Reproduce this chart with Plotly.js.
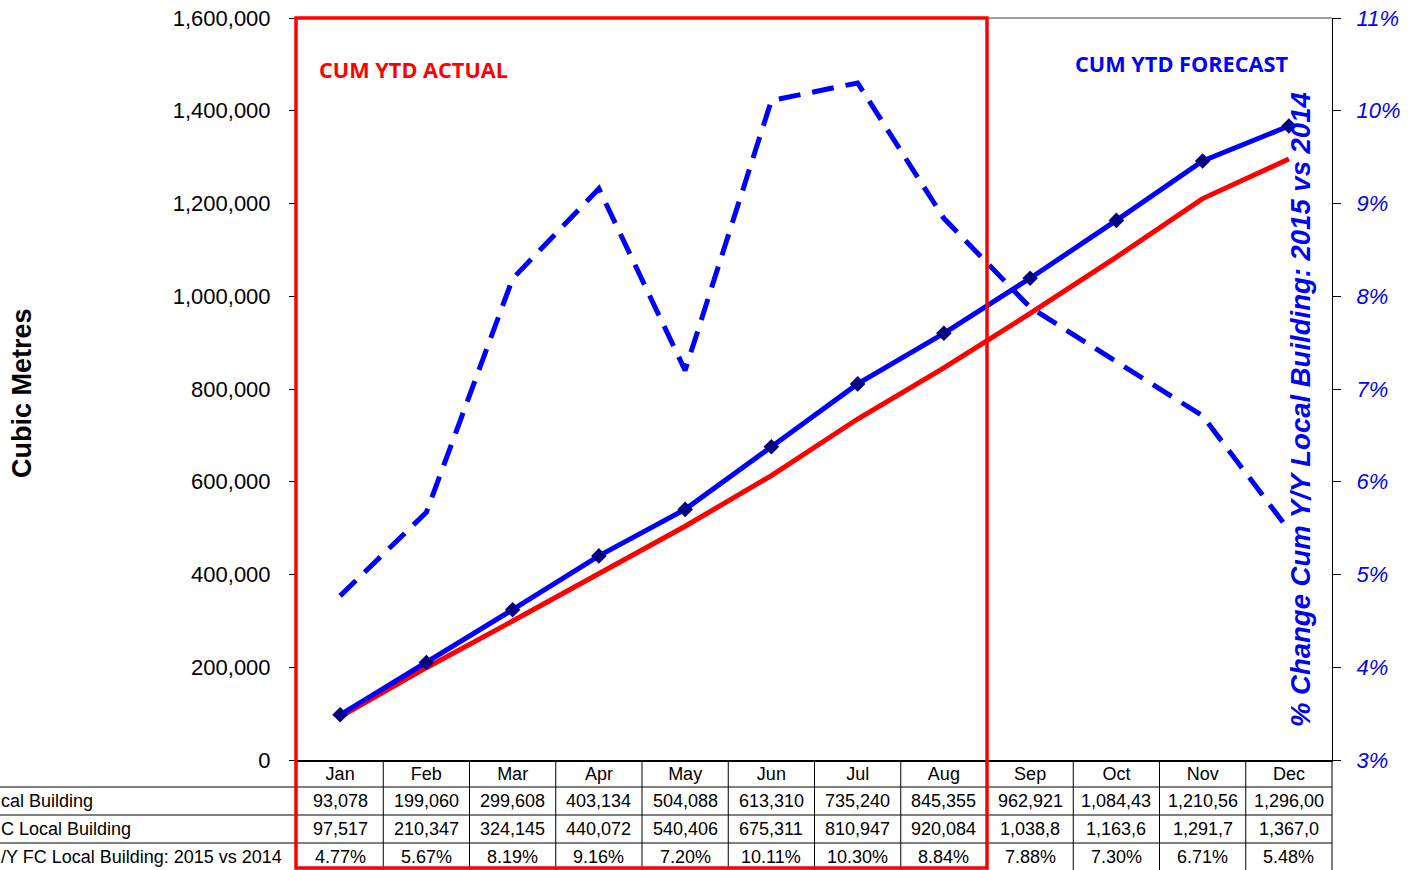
<!DOCTYPE html>
<html>
<head>
<meta charset="utf-8">
<script src="https://cdn.plot.ly/plotly-3.0.1.min.js"></script>
<style>html,body{margin:0;padding:0;background:#fff;}#chart{width:1408px;height:870px;}</style>
</head>
<body>
<div id="chart"></div>
<script>
// ---- data ----
const months = ['Jan','Feb','Mar','Apr','May','Jun','Jul','Aug','Sep','Oct','Nov','Dec'];
const actual = [93078,199060,299608,403134,504088,613310,735240,845355,962921,1084430,1210560,1296000];
const forecast = [97517,210347,324145,440072,540406,675311,810947,920084,1038800,1163600,1291700,1367000];
const pctChange = [0.0477,0.0567,0.0819,0.0916,0.0720,0.1011,0.1030,0.0884,0.0788,0.0730,0.0671,0.0548];
const actualLabels = ['93,078','199,060','299,608','403,134','504,088','613,310','735,240','845,355','962,921','1,084,43','1,210,56','1,296,00'];
const forecastLabels = ['97,517','210,347','324,145','440,072','540,406','675,311','810,947','920,084','1,038,8','1,163,6','1,291,7','1,367,0'];
const pctLabels = ['4.77%','5.67%','8.19%','9.16%','7.20%','10.11%','10.30%','8.84%','7.88%','7.30%','6.71%','5.48%'];
// row labels as visible in the (left-cropped) reference
const rowNames = ['cal Building','C Local Building','/Y FC Local Building: 2015 vs 2014'];

// ---- geometry helpers (paper coords) ----
const L = 297, R = 1332, T = 18, B = 760;
const px = x => (x - L) / (R - L);
const py = y => (B - y) / (B - T);

const traces = [
  {x: months, y: actual, type: 'scatter', mode: 'lines', line: {color: '#FF0000', width: 5}, hoverinfo: 'skip', yaxis: 'y'},
  {x: months, y: forecast, type: 'scatter', mode: 'lines+markers', line: {color: '#0000FF', width: 5},
   marker: {symbol: 'diamond', size: 12, color: '#000080'}, hoverinfo: 'skip', yaxis: 'y'},
  {x: months, y: pctChange, type: 'scatter', mode: 'lines', line: {color: '#0000FF', width: 5, dash: '22px,12px'}, hoverinfo: 'skip', yaxis: 'y2'}
];

const tf = 'Liberation Sans, Arial, sans-serif';
const shapes = [];
const annotations = [];

// table horizontal lines
[787, 815, 843].forEach(y => shapes.push({type: 'line', xref: 'paper', yref: 'paper', x0: px(0), x1: 1, y0: py(y), y1: py(y), line: {color: '#000', width: 1.2}, layer: 'above'}));
// table vertical lines
for (let k = 1; k <= 12; k++) {
  shapes.push({type: 'line', xref: 'paper', yref: 'paper', x0: k / 12, x1: k / 12, y0: 0, y1: py(872), line: {color: '#000', width: 1}, layer: 'above'});
}
// top border of plot area
shapes.push({type: 'line', xref: 'paper', yref: 'paper', x0: 0, x1: 1, y0: 1, y1: 1, line: {color: '#808080', width: 1.5}});
// red actual box
shapes.push({type: 'rect', xref: 'paper', yref: 'paper', x0: px(296), x1: 8 / 12, y0: py(868), y1: 1, line: {color: '#FF0000', width: 3.5}, fillcolor: 'rgba(0,0,0,0)', layer: 'above'});

// table cells
const rowsY = [801, 829, 857];
const rowsData = [actualLabels, forecastLabels, pctLabels];
rowsData.forEach((arr, r) => {
  arr.forEach((t, i) => annotations.push({x: months[i], y: py(rowsY[r]), xref: 'x', yref: 'paper', text: t, showarrow: false,
    font: {family: tf, size: 18, color: '#000'}, xanchor: 'center', yanchor: 'middle'}));
  annotations.push({x: px(-1), y: py(rowsY[r]), xref: 'paper', yref: 'paper', text: rowNames[r], showarrow: false,
    font: {family: tf, size: 18, color: '#000'}, xanchor: 'left', yanchor: 'middle'});
});

// titles / labels
annotations.push({x: px(22), y: py(393), xref: 'paper', yref: 'paper', text: 'Cubic Metres', textangle: -90, showarrow: false,
  font: {family: tf, size: 27, color: '#000', weight: 'bold'}, xanchor: 'center', yanchor: 'middle'});
annotations.push({x: px(1300), y: py(410), xref: 'paper', yref: 'paper', text: '% Change Cum Y/Y Local Building: 2015 vs 2014', textangle: -90, showarrow: false,
  font: {family: tf, size: 27.5, color: '#0000FF', weight: 'bold', style: 'italic'}, xanchor: 'center', yanchor: 'middle'});
annotations.push({x: px(413), y: py(69), xref: 'paper', yref: 'paper', text: 'CUM YTD ACTUAL', showarrow: false,
  font: {family: 'Open Sans, sans-serif', size: 21.7, color: '#FF0000', weight: 'bold'}, xanchor: 'center', yanchor: 'middle'});
annotations.push({x: px(1181), y: py(64), xref: 'paper', yref: 'paper', text: 'CUM YTD FORECAST', showarrow: false,
  font: {family: 'Open Sans, sans-serif', size: 21.7, color: '#0000FF', weight: 'bold'}, xanchor: 'center', yanchor: 'middle'});

const layout = {
  width: 1408, height: 870,
  margin: {l: L, r: 1408 - R, t: T, b: 870 - B, pad: 0},
  paper_bgcolor: '#fff', plot_bgcolor: '#fff',
  showlegend: false,
  hovermode: false,
  xaxis: {type: 'category', categoryarray: months, range: [-0.5, 11.5], showgrid: false, zeroline: false,
    showline: true, linecolor: '#000', linewidth: 1.5, ticks: '', tickfont: {family: tf, size: 18, color: '#000'}, ticklabelstandoff: -3},
  yaxis: {range: [0, 1600000], dtick: 200000, tickformat: ',d', showgrid: false, zeroline: false,
    showline: true, linecolor: '#000', linewidth: 1, ticks: 'outside', ticklen: 7, tickcolor: '#000',
    tickfont: {family: tf, size: 22, color: '#000'}, ticklabelstandoff: 14},
  yaxis2: {overlaying: 'y', side: 'right', range: [0.03, 0.11], dtick: 0.01, tickformat: '.0%', showgrid: false, zeroline: false,
    showline: true, linecolor: '#000', linewidth: 1.2, ticks: 'outside', ticklen: 8, tickcolor: '#000',
    tickfont: {family: tf, size: 22, color: '#0000FF', style: 'italic'}, ticklabelstandoff: 11},
  shapes: shapes,
  annotations: annotations
};

Plotly.newPlot('chart', traces, layout, {displayModeBar: false, staticPlot: true});
</script>
</body>
</html>
